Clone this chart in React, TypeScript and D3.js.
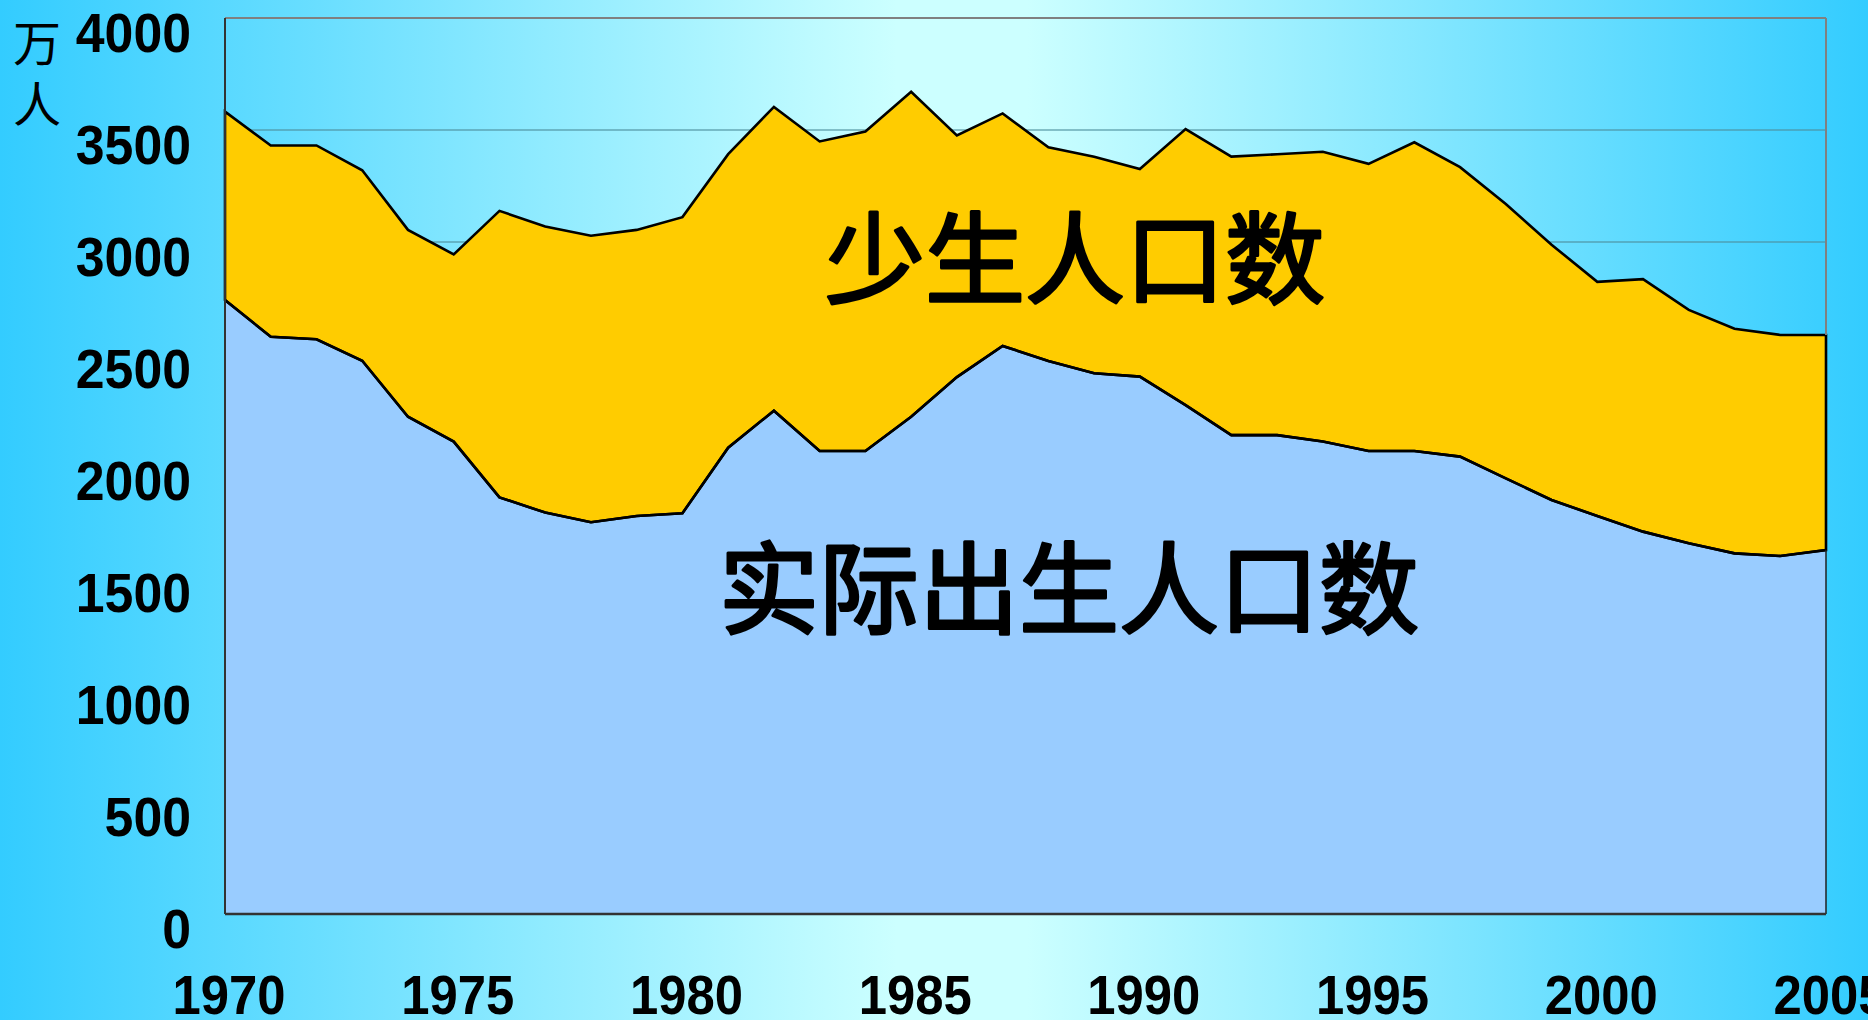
import React from "react";
import * as d3 from "d3";

const years: number[] = d3.range(1970, 2006);
// 实际出生人口数 (万人)
const actualBirths: number[] = [
  2741, 2577, 2566, 2470, 2220, 2109, 1860, 1792, 1749, 1777,
  1789, 2082, 2247, 2067, 2067, 2220, 2397, 2536, 2469, 2414,
  2399, 2272, 2138, 2138, 2109, 2067, 2067, 2042, 1945, 1848,
  1777, 1707, 1655, 1610, 1598, 1625,
];
// 少生人口数 (万人), stacked on top
const fewerBirths: number[] = [
  841, 854, 865, 850, 834, 836, 1279, 1277, 1279, 1277,
  1322, 1310, 1356, 1382, 1426, 1451, 1079, 1038, 954, 967,
  927, 1232, 1243, 1254, 1294, 1282, 1378, 1292, 1225, 1140,
  1045, 1127, 1042, 1003, 987, 960,
];
const xTicks: number[] = [1970, 1975, 1980, 1985, 1990, 1995, 2000, 2005];
const yTicks: number[] = [0, 500, 1000, 1500, 2000, 2500, 3000, 3500, 4000];
const seriesKeys = ["actual", "fewer"];
const seriesLabels = ["实际出生人口数", "少生人口数"];
const unitChars = ["万", "人"];

const W = 1868;
const H = 1020;
const L = 225, R = 1826, T = 18, B = 914;

export default function App() {
  const x = d3.scaleLinear().domain([1970, 2005]).range([L, R]);
  const y = d3.scaleLinear().domain([0, 4000]).range([B, T]);
  const rows = years.map((yr, i) => ({ year: yr, actual: actualBirths[i], fewer: fewerBirths[i] }));
  const stack = d3.stack<any>().keys(seriesKeys)(rows);
  const area = d3
    .area<any>()
    .x((d) => x(d.data.year))
    .y0((d) => y(d[0]))
    .y1((d) => y(d[1]));
  const topLine = d3
    .line<any>()
    .x((d) => x(d.data.year))
    .y((d) => y(d[1]));
  const numFont = "'Liberation Sans', Arial, sans-serif";
  const cjkFont = "'Noto Sans CJK SC', 'Noto Sans CJK JP', sans-serif";

  return (
    <div style={{ position: "absolute", left: 0, top: 0, width: W, height: H, overflow: "hidden" }}>
      <svg width={W} height={H} style={{ display: "block" }}>
        <defs>
          <linearGradient id="bg" x1="0" y1="0" x2="1" y2="0">
            <stop offset="0" stopColor="#33CCFF" />
            <stop offset="0.48" stopColor="#CCFFFF" />
            <stop offset="0.55" stopColor="#CCFFFF" />
            <stop offset="1" stopColor="#33CCFF" />
          </linearGradient>
        </defs>
        <rect x={0} y={0} width={W} height={H} fill="url(#bg)" />
        {/* gridlines */}
        {yTicks.filter((t) => t > 0).map((t) => (
          <line key={t} x1={L} x2={R} y1={y(t)} y2={y(t)} stroke="#4d8f9e" strokeOpacity={0.75} strokeWidth={1.5} />
        ))}
        {/* areas */}
        <path d={area(stack[0]) || ""} fill="#99CCFF" stroke="none" />
        <path d={area(stack[1]) || ""} fill="#FFCC00" stroke="#000" strokeWidth={2.6} strokeLinejoin="miter" />
        <path d={topLine(stack[0]) || ""} fill="none" stroke="#000" strokeWidth={2.6} />
        {/* frame */}
        <line x1={L} x2={R} y1={T} y2={T} stroke="#808080" strokeWidth={2} />
        <line x1={R} x2={R} y1={T} y2={y(stack[1][35][1])} stroke="#808080" strokeWidth={2} />
        <line x1={R} x2={R} y1={y(stack[0][35][1])} y2={B} stroke="#222" strokeWidth={1.5} />
        <line x1={L} x2={L} y1={T} y2={B} stroke="#333" strokeWidth={2} />
        <line x1={L} x2={R} y1={B} y2={B} stroke="#333" strokeWidth={2.5} />
        {/* y tick labels */}
        {yTicks.map((t) => {
          const s = String(t);
          return (
            <text key={t} x={191} y={y(t) + 34} textAnchor="end" fontFamily={numFont} fontWeight="bold" fontSize={56}
              textLength={s.length * 28.8} lengthAdjust="spacingAndGlyphs" fill="#000">
              {s}
            </text>
          );
        })}
        {/* x tick labels */}
        {xTicks.map((t) => {
          const s = String(t);
          return (
            <text key={t} x={x(t) + 4 - 56.5} y={1014} fontFamily={numFont} fontWeight="bold" fontSize={56}
              textLength={113} lengthAdjust="spacingAndGlyphs" fill="#000">
              {s}
            </text>
          );
        })}
        {/* unit */}
        <text x={37} y={40} textAnchor="middle" dominantBaseline="central" fontFamily={cjkFont} fontSize={48} fill="#000">
          {unitChars[0]}
        </text>
        <text x={37} y={101} textAnchor="middle" dominantBaseline="central" fontFamily={cjkFont} fontSize={48} fill="#000">
          {unitChars[1]}
        </text>
        {/* series labels */}
        <text x={1075} y={252} textAnchor="middle" dominantBaseline="central" fontFamily={cjkFont} fontWeight={400} fontSize={100}
          fill="#000" stroke="#000" strokeWidth={3} strokeLinejoin="round">
          {seriesLabels[1]}
        </text>
        <text x={1069} y={582} textAnchor="middle" dominantBaseline="central" fontFamily={cjkFont} fontWeight={400} fontSize={100}
          fill="#000" stroke="#000" strokeWidth={3} strokeLinejoin="round">
          {seriesLabels[0]}
        </text>
      </svg>
    </div>
  );
}
